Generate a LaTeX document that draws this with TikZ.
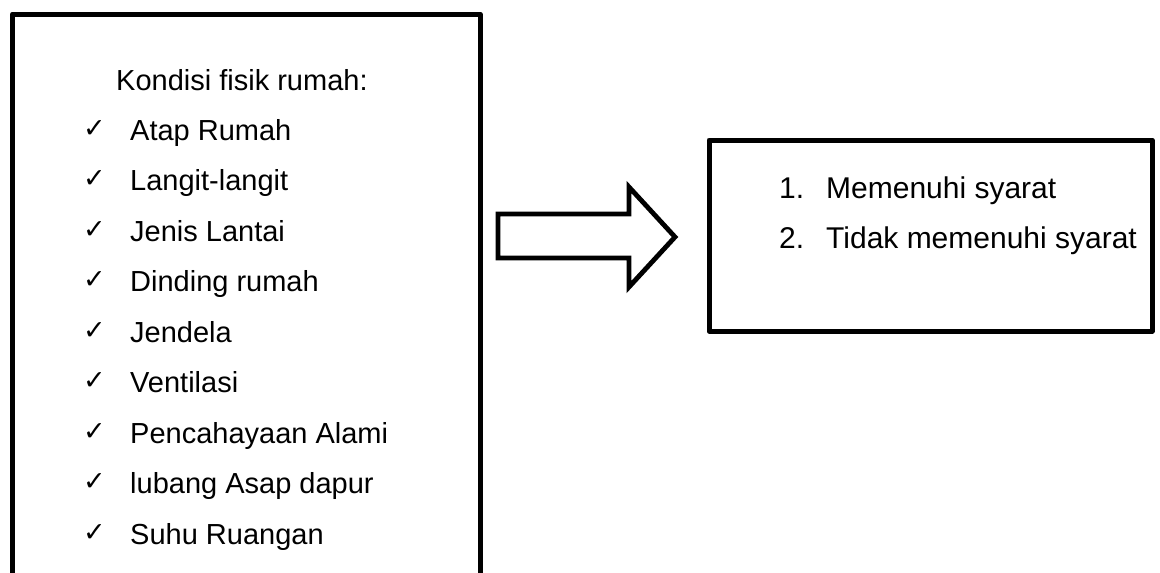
\documentclass[tikz,border=0pt]{standalone}
\usepackage{fontspec}
\setmainfont{Liberation Sans}
\newfontfamily\symfont{DejaVu Sans}
\begin{document}
\begin{tikzpicture}[x=1pt,y=-1pt,
  frame/.style={draw=black,line width=5pt,line join=round,inner sep=0pt},
  txt/.style={anchor=base west,inner sep=0pt,font=\fontsize{29}{34}\selectfont},
  rtxt/.style={anchor=base west,inner sep=0pt,font=\fontsize{30}{35}\selectfont},
  tick/.style={anchor=base west,inner sep=0pt,font=\symfont\bfseries\fontsize{27}{30}\selectfont},
  bigarrow/.style={draw=black,line width=4.8pt,line join=miter,fill=white}]
\useasboundingbox (0,0) rectangle (1160,573);
\clip (0,0) rectangle (1160,573);
% left box (open at the bottom of the picture)
\node[frame,minimum width=467.5pt,minimum height=606pt] (left) at (246.25,317) {};
\node[txt] (head) at (116,90) {Kondisi fisik rumah:};
\foreach \t [count=\i from 0] in {Atap Rumah,Langit-langit,Jenis Lantai,Dinding rumah,Jendela,Ventilasi,Pencahayaan Alami,lubang Asap dapur,Suhu Ruangan}{
  \node[tick] (c\i) at (83,{137+50.5*\i}) {✓};
  \node[txt] (t\i) at (130,{140+50.5*\i}) {\t};
}
% block arrow
\draw[bigarrow] (498,214) -- (629,214) -- (629,187) -- (675,237) -- (629,287) -- (629,258) -- (498,258) -- cycle;
% right box
\node[frame,minimum width=443pt,minimum height=191pt] (right) at (930.5,235.5) {};
\node[rtxt] (n1) at (779,198) {1.};
\node[rtxt] (r1) at (826,198) {Memenuhi syarat};
\node[rtxt] (n2) at (779,248) {2.};
\node[rtxt] (r2) at (826,248) {Tidak memenuhi syarat};
\end{tikzpicture}
\end{document}
